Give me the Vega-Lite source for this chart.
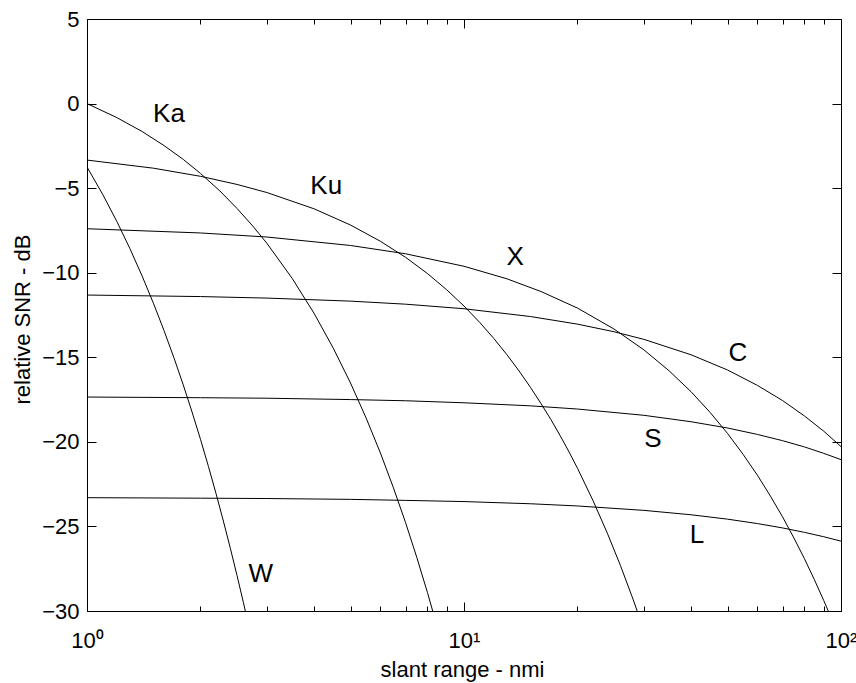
{
  "$schema": "https://vega.github.io/schema/vega-lite/v6.json",
  "width": 754,
  "height": 592,
  "autosize": {"type": "none"},
  "padding": {"left": 87, "top": 19, "right": 15, "bottom": 72},
  "background": "white",
  "config": {
    "view": {"stroke": "black", "strokeWidth": 1},
    "font": "Liberation Sans",
    "axis": {"labelFont": "Liberation Sans", "titleFont": "Liberation Sans", "labelColor": "black", "titleColor": "black", "tickColor": "black", "tickWidth": 1, "grid": false, "domain": false, "labelFlush": false, "labelOverlap": false, "titleFontWeight": "normal"}
  },
  "datasets": {
    "curves": [
      {"band": "Ka", "R": 1, "snr": 0},
      {"band": "Ka", "R": 1.2, "snr": -0.83},
      {"band": "Ka", "R": 1.4, "snr": -1.65},
      {"band": "Ka", "R": 1.6, "snr": -2.48},
      {"band": "Ka", "R": 1.8, "snr": -3.3},
      {"band": "Ka", "R": 2.0, "snr": -4.13},
      {"band": "Ka", "R": 2.25, "snr": -5.16},
      {"band": "Ka", "R": 2.5, "snr": -6.2},
      {"band": "Ka", "R": 2.75, "snr": -7.23},
      {"band": "Ka", "R": 3, "snr": -8.26},
      {"band": "Ka", "R": 3.5, "snr": -10.33},
      {"band": "Ka", "R": 4, "snr": -12.39},
      {"band": "Ka", "R": 4.5, "snr": -14.46},
      {"band": "Ka", "R": 5, "snr": -16.52},
      {"band": "Ka", "R": 5.5, "snr": -18.59},
      {"band": "Ka", "R": 6, "snr": -20.65},
      {"band": "Ka", "R": 6.5, "snr": -22.72},
      {"band": "Ka", "R": 7, "snr": -24.78},
      {"band": "Ka", "R": 7.5, "snr": -26.85},
      {"band": "Ka", "R": 8, "snr": -28.91},
      {"band": "Ka", "R": 8.26, "snr": -30},

      {"band": "Ku", "R": 1, "snr": -3.34},
      {"band": "Ku", "R": 1.5, "snr": -3.82},
      {"band": "Ku", "R": 2, "snr": -4.3},
      {"band": "Ku", "R": 2.5, "snr": -4.78},
      {"band": "Ku", "R": 3, "snr": -5.26},
      {"band": "Ku", "R": 4, "snr": -6.22},
      {"band": "Ku", "R": 5, "snr": -7.18},
      {"band": "Ku", "R": 6, "snr": -8.14},
      {"band": "Ku", "R": 7, "snr": -9.09},
      {"band": "Ku", "R": 8, "snr": -10.05},
      {"band": "Ku", "R": 9, "snr": -11.01},
      {"band": "Ku", "R": 10, "snr": -11.97},
      {"band": "Ku", "R": 11, "snr": -12.93},
      {"band": "Ku", "R": 12, "snr": -13.89},
      {"band": "Ku", "R": 13, "snr": -14.85},
      {"band": "Ku", "R": 14, "snr": -15.81},
      {"band": "Ku", "R": 15, "snr": -16.77},
      {"band": "Ku", "R": 16, "snr": -17.73},
      {"band": "Ku", "R": 17, "snr": -18.68},
      {"band": "Ku", "R": 18, "snr": -19.64},
      {"band": "Ku", "R": 19, "snr": -20.6},
      {"band": "Ku", "R": 20, "snr": -21.56},
      {"band": "Ku", "R": 22, "snr": -23.48},
      {"band": "Ku", "R": 24, "snr": -25.4},
      {"band": "Ku", "R": 26, "snr": -27.31},
      {"band": "Ku", "R": 28, "snr": -29.23},
      {"band": "Ku", "R": 28.8, "snr": -30},

      {"band": "X", "R": 1, "snr": -7.4},
      {"band": "X", "R": 2, "snr": -7.65},
      {"band": "X", "R": 3, "snr": -7.89},
      {"band": "X", "R": 5, "snr": -8.39},
      {"band": "X", "R": 7, "snr": -8.88},
      {"band": "X", "R": 10, "snr": -9.62},
      {"band": "X", "R": 13, "snr": -10.36},
      {"band": "X", "R": 16, "snr": -11.11},
      {"band": "X", "R": 20, "snr": -12.09},
      {"band": "X", "R": 25, "snr": -13.33},
      {"band": "X", "R": 30, "snr": -14.56},
      {"band": "X", "R": 35, "snr": -15.8},
      {"band": "X", "R": 40, "snr": -17.03},
      {"band": "X", "R": 45, "snr": -18.27},
      {"band": "X", "R": 50, "snr": -19.5},
      {"band": "X", "R": 55, "snr": -20.74},
      {"band": "X", "R": 60, "snr": -21.97},
      {"band": "X", "R": 65, "snr": -23.21},
      {"band": "X", "R": 70, "snr": -24.44},
      {"band": "X", "R": 75, "snr": -25.68},
      {"band": "X", "R": 80, "snr": -26.91},
      {"band": "X", "R": 85, "snr": -28.15},
      {"band": "X", "R": 90, "snr": -29.38},
      {"band": "X", "R": 92.5, "snr": -30},

      {"band": "C", "R": 1, "snr": -11.32},
      {"band": "C", "R": 2, "snr": -11.41},
      {"band": "C", "R": 3, "snr": -11.5},
      {"band": "C", "R": 5, "snr": -11.68},
      {"band": "C", "R": 7, "snr": -11.86},
      {"band": "C", "R": 10, "snr": -12.13},
      {"band": "C", "R": 15, "snr": -12.59},
      {"band": "C", "R": 20, "snr": -13.04},
      {"band": "C", "R": 25, "snr": -13.49},
      {"band": "C", "R": 30, "snr": -13.94},
      {"band": "C", "R": 40, "snr": -14.85},
      {"band": "C", "R": 50, "snr": -15.75},
      {"band": "C", "R": 60, "snr": -16.66},
      {"band": "C", "R": 70, "snr": -17.56},
      {"band": "C", "R": 80, "snr": -18.47},
      {"band": "C", "R": 90, "snr": -19.37},
      {"band": "C", "R": 100, "snr": -20.28},

      {"band": "S", "R": 1, "snr": -17.35},
      {"band": "S", "R": 2, "snr": -17.39},
      {"band": "S", "R": 3, "snr": -17.42},
      {"band": "S", "R": 5, "snr": -17.5},
      {"band": "S", "R": 7, "snr": -17.57},
      {"band": "S", "R": 10, "snr": -17.69},
      {"band": "S", "R": 15, "snr": -17.87},
      {"band": "S", "R": 20, "snr": -18.06},
      {"band": "S", "R": 30, "snr": -18.43},
      {"band": "S", "R": 40, "snr": -18.81},
      {"band": "S", "R": 50, "snr": -19.18},
      {"band": "S", "R": 60, "snr": -19.56},
      {"band": "S", "R": 70, "snr": -19.93},
      {"band": "S", "R": 80, "snr": -20.3},
      {"band": "S", "R": 90, "snr": -20.68},
      {"band": "S", "R": 100, "snr": -21.05},

      {"band": "L", "R": 1, "snr": -23.3},
      {"band": "L", "R": 2, "snr": -23.33},
      {"band": "L", "R": 3, "snr": -23.35},
      {"band": "L", "R": 5, "snr": -23.4},
      {"band": "L", "R": 7, "snr": -23.46},
      {"band": "L", "R": 10, "snr": -23.53},
      {"band": "L", "R": 15, "snr": -23.66},
      {"band": "L", "R": 20, "snr": -23.79},
      {"band": "L", "R": 30, "snr": -24.05},
      {"band": "L", "R": 40, "snr": -24.31},
      {"band": "L", "R": 50, "snr": -24.57},
      {"band": "L", "R": 60, "snr": -24.83},
      {"band": "L", "R": 70, "snr": -25.09},
      {"band": "L", "R": 80, "snr": -25.35},
      {"band": "L", "R": 90, "snr": -25.61},
      {"band": "L", "R": 100, "snr": -25.87},

      {"band": "W", "R": 1, "snr": -3.75},
      {"band": "W", "R": 1.1, "snr": -5.36},
      {"band": "W", "R": 1.2, "snr": -6.97},
      {"band": "W", "R": 1.3, "snr": -8.58},
      {"band": "W", "R": 1.4, "snr": -10.19},
      {"band": "W", "R": 1.5, "snr": -11.8},
      {"band": "W", "R": 1.6, "snr": -13.41},
      {"band": "W", "R": 1.7, "snr": -15.02},
      {"band": "W", "R": 1.8, "snr": -16.63},
      {"band": "W", "R": 1.9, "snr": -18.24},
      {"band": "W", "R": 2.0, "snr": -19.85},
      {"band": "W", "R": 2.1, "snr": -21.46},
      {"band": "W", "R": 2.2, "snr": -23.07},
      {"band": "W", "R": 2.3, "snr": -24.68},
      {"band": "W", "R": 2.4, "snr": -26.29},
      {"band": "W", "R": 2.5, "snr": -27.9},
      {"band": "W", "R": 2.6, "snr": -29.51},
      {"band": "W", "R": 2.63, "snr": -30}
    ],
    "labels": [
      {"band": "Ka", "R": 1.65, "snr": -0.62},
      {"band": "Ku", "R": 4.31, "snr": -4.87},
      {"band": "X", "R": 13.66, "snr": -9.07},
      {"band": "C", "R": 53.3, "snr": -14.75},
      {"band": "S", "R": 31.7, "snr": -19.83},
      {"band": "L", "R": 41.5, "snr": -25.5},
      {"band": "W", "R": 2.89, "snr": -27.8}
    ]
  },
  "layer": [
    {
      "data": {"name": "curves"},
      "transform": [{"filter": {"field": "band", "oneOf": ["Ka", "Ku", "X", "W"]}}],
      "mark": {"type": "line", "color": "black", "strokeWidth": 1, "clip": true},
      "encoding": {
        "x": {
          "field": "R", "type": "quantitative",
          "scale": {"type": "log", "domain": [1, 100], "nice": false},
          "axis": {
            "orient": "bottom",
            "offset": -9,
            "values": [1, 10, 100],
            "tickSize": 9,
            "labelExpr": "datum.value == 1 ? '10⁰' : datum.value == 10 ? '10¹' : '10²'",
            "labelFontSize": 22,
            "labelBaseline": "alphabetic",
            "labelPadding": 36,
            "title": "slant range - nmi",
            "titleFontSize": 22,
            "titleX": 375,
            "titleY": 74,
            "titleBaseline": "alphabetic",
            "titleAlign": "center"
          }
        },
        "y": {
          "field": "snr", "type": "quantitative",
          "scale": {"domain": [-30, 5], "nice": false, "zero": false},
          "axis": {
            "orient": "left",
            "offset": -9,
            "values": [-30, -25, -20, -15, -10, -5, 0, 5],
            "tickSize": 9,
            "labelFontSize": 22,
            "labelPadding": 8,
            "title": "relative SNR - dB",
            "titleFontSize": 22,
            "titleX": -74,
            "titleY": 300,
            "titleAngle": -90,
            "titleBaseline": "middle",
            "titleAlign": "center"
          }
        },
        "detail": {"field": "band"}
      }
    },
    {
      "data": {"name": "curves"},
      "transform": [{"filter": {"field": "band", "oneOf": ["C", "S", "L"]}}],
      "mark": {"type": "line", "color": "black", "strokeWidth": 1, "clip": true},
      "encoding": {
        "x": {
          "field": "R", "type": "quantitative",
          "scale": {"type": "log", "domain": [1, 100], "nice": false},
          "axis": {
            "orient": "bottom",
            "offset": -5,
            "values": [2, 3, 4, 5, 6, 7, 8, 9, 20, 30, 40, 50, 60, 70, 80, 90],
            "tickSize": 5,
            "labels": false,
            "title": null
          }
        },
        "y": {
          "field": "snr", "type": "quantitative",
          "scale": {"domain": [-30, 5], "nice": false, "zero": false},
          "axis": {
            "orient": "right",
            "offset": -9,
            "values": [-30, -25, -20, -15, -10, -5, 0, 5],
            "tickSize": 9,
            "labels": false,
            "title": null
          }
        },
        "detail": {"field": "band"}
      }
    },
    {
      "data": {"name": "labels"},
      "transform": [{"filter": {"field": "band", "oneOf": ["Ka", "Ku", "X", "W"]}}],
      "mark": {"type": "text", "fontSize": 26, "font": "Liberation Sans", "color": "black", "align": "center", "baseline": "middle"},
      "encoding": {
        "x": {
          "field": "R", "type": "quantitative",
          "scale": {"type": "log", "domain": [1, 100], "nice": false},
          "axis": {
            "orient": "top",
            "offset": -9,
            "values": [1, 10, 100],
            "tickSize": 9,
            "labels": false,
            "title": null
          }
        },
        "y": {
          "field": "snr", "type": "quantitative",
          "scale": {"domain": [-30, 5], "nice": false, "zero": false},
          "axis": null
        },
        "text": {"field": "band"}
      }
    },
    {
      "data": {"name": "labels"},
      "transform": [{"filter": {"field": "band", "oneOf": ["C", "S", "L"]}}],
      "mark": {"type": "text", "fontSize": 26, "font": "Liberation Sans", "color": "black", "align": "center", "baseline": "middle"},
      "encoding": {
        "x": {
          "field": "R", "type": "quantitative",
          "scale": {"type": "log", "domain": [1, 100], "nice": false},
          "axis": {
            "orient": "top",
            "offset": -5,
            "values": [2, 3, 4, 5, 6, 7, 8, 9, 20, 30, 40, 50, 60, 70, 80, 90],
            "tickSize": 5,
            "labels": false,
            "title": null
          }
        },
        "y": {
          "field": "snr", "type": "quantitative",
          "scale": {"domain": [-30, 5], "nice": false, "zero": false},
          "axis": null
        },
        "text": {"field": "band"}
      }
    }
  ],
  "resolve": {"axis": {"x": "independent", "y": "independent"}}
}
